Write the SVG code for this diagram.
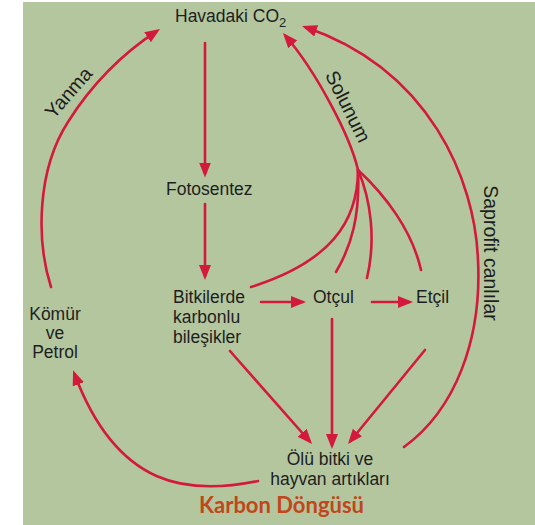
<svg xmlns="http://www.w3.org/2000/svg" width="535" height="525" viewBox="0 0 535 525">
  <style>
    .lbl { font-family: "Liberation Sans", Arial, Helvetica, sans-serif; font-size: 17.5px; fill: #1e1e1e; }
    .rot { font-family: "Liberation Sans", Arial, Helvetica, sans-serif; font-size: 19.5px; fill: #1e1e1e; }
    .title { font-family: Lato, "Open Sans", sans-serif; font-weight: 700; font-size: 22px; fill: #c1461b; }
    .flow { fill: none; stroke: #d3193c; stroke-width: 2.6; stroke-linecap: round; }
    .arrow { marker-end: url(#head); }
  </style>
  <defs>
    <marker id="head" markerUnits="userSpaceOnUse" markerWidth="16" markerHeight="13" refX="11" refY="6" orient="auto">
      <path d="M0,0 L15,6 L0,12 Z" fill="#d3193c"/>
    </marker>
  </defs>

  <!-- background panel -->
  <rect x="0" y="0" width="535" height="525" fill="#ffffff"/>
  <rect x="23" y="2" width="512" height="523" fill="#b4c69e"/>

  <!-- connectors -->
  <g id="connectors">
    <!-- photosynthesis chain -->
    <path class="flow arrow" d="M205,43 L205,173.5"/>
    <path class="flow arrow" d="M205,204 L205,276"/>
    <!-- food chain -->
    <path class="flow arrow" d="M261,302 L302,302"/>
    <path class="flow arrow" d="M372,302 L409,302"/>
    <!-- to dead remains -->
    <path class="flow arrow" d="M230,351 L309.4,441"/>
    <path class="flow arrow" d="M332,319 L332,445"/>
    <path class="flow arrow" d="M425,350 L350.5,441"/>
    <!-- remains to fossil fuels -->
    <path class="flow arrow" d="M258,481 C190,495 118,490 74.5,374"/>
    <!-- combustion -->
    <path class="flow arrow" d="M51,287 C36,240 37,170 68,122 C92,84 122,54 156.7,31.2"/>
    <!-- respiration trunk and branches -->
    <path class="flow arrow" d="M358,170 C350,135 315,70 285.6,36"/>
    <path class="flow" d="M358,170 C358,222 330,262 251,287"/>
    <path class="flow" d="M358,170 C360,215 352,245 336,272"/>
    <path class="flow" d="M358,170 C371,200 376,240 367,278"/>
    <path class="flow" d="M358,170 C385,195 412,230 421,270"/>
    <!-- decomposers -->
    <path class="flow arrow" d="M404,447 C455,410 482,340 478,260 C475,180 430,70 305.8,27.3"/>
  </g>

  <!-- nodes -->
  <g id="n-havadaki">
    <text class="lbl" x="175" y="22">Havadaki CO<tspan font-size="13" dy="5">2</tspan></text>
  </g>
  <g id="n-fotosentez">
    <text class="lbl" x="166" y="195">Fotosentez</text>
  </g>
  <g id="n-bitkiler">
    <text class="lbl" x="173" y="303">Bitkilerde</text>
    <text class="lbl" x="173" y="323">karbonlu</text>
    <text class="lbl" x="173" y="343">bileşikler</text>
  </g>
  <g id="n-otcul">
    <text class="lbl" x="313" y="303">Otçul</text>
  </g>
  <g id="n-etcil">
    <text class="lbl" x="416" y="303">Etçil</text>
  </g>
  <g id="n-komur">
    <text class="lbl" x="55" y="320" text-anchor="middle">Kömür</text>
    <text class="lbl" x="55" y="339" text-anchor="middle">ve</text>
    <text class="lbl" x="55" y="358" text-anchor="middle">Petrol</text>
  </g>
  <g id="n-olu">
    <text class="lbl" x="330" y="465" text-anchor="middle">Ölü bitki ve</text>
    <text class="lbl" x="330" y="485" text-anchor="middle">hayvan artıkları</text>
  </g>

  <!-- edge labels -->
  <g id="edge-labels">
    <text class="rot" text-anchor="middle" transform="translate(73.5,97) rotate(-49)">Yanma</text>
    <text class="rot" text-anchor="middle" transform="translate(342,109.5) rotate(63.4)">Solunum</text>
    <text class="rot" text-anchor="middle" transform="translate(484,253) rotate(90)">Saprofit canlılar</text>
  </g>

  <g id="caption">
    <text class="title" x="281.5" y="513" text-anchor="middle">Karbon Döngüsü</text>
  </g>
</svg>
